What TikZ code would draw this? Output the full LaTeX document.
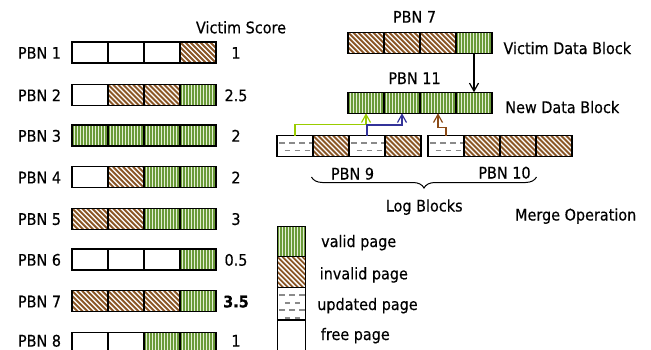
\documentclass[tikz,border=0pt]{standalone}
\usepackage{fontspec}
\setmainfont{DejaVu Sans}[FakeStretch=0.9,FakeBold=0.4]
\usetikzlibrary{arrows.meta,decorations.pathreplacing,calc}

\definecolor{validgreen}{HTML}{6A9A38}
\definecolor{validlight}{HTML}{E4EFD6}
\definecolor{stripebrown}{HTML}{8A5626}
\definecolor{dashgray}{HTML}{8A8A8A}
\definecolor{linkgreen}{HTML}{99CC00}
\definecolor{linkblue}{HTML}{333399}
\definecolor{linkbrown}{HTML}{8B4A16}

\tikzset{
  pagecell/.style={draw=black, line width=1.1pt, minimum width=36pt, minimum height=21pt,
    inner sep=0pt, outer sep=0pt},
  freepg/.style={pagecell, fill=white},
  validpg/.style={pagecell, fill=validgreen, path picture={
      \foreach \k in {1,...,16}
        \draw[validlight, line width=0.9pt]
          ([xshift=\k*3pt-1pt]path picture bounding box.north west) --
          ([xshift=\k*3pt-1pt]path picture bounding box.south west);}},
  invalidpg/.style={pagecell, fill=white, path picture={
      \foreach \s in {-50,-45,...,40}
        \draw[stripebrown, line width=1.9pt]
          ([xshift=\s pt]path picture bounding box.north west) -- ++(55pt,-55pt);}},
  updatedpg/.style={pagecell, fill=white, path picture={
      \foreach \r/\o in {7.5/2,15/7.5,22.5/2,30/7.5}
        \foreach \d in {0,10,...,30}
          \draw[dashgray, line width=1.6pt]
            ([xshift={(\o+\d)*1pt}, yshift={-\r*1pt}]path picture bounding box.north west) -- ++(5.5pt,0pt);}},
  lbl/.style={font=\fontsize{16}{19}\selectfont, inner sep=0pt, anchor=base},
  link/.style={line width=1.2pt, -{Straight Barb[length=8pt,width=9pt]}},
}

\begin{document}
\begin{tikzpicture}[x=1pt,y=-1pt]
\useasboundingbox (0,0) rectangle (651,349);
\clip (0,0) rectangle (651,349);

% ---- blocks ranked by victim score ----
\node[lbl] (vscore) at (241,33.3) {Victim Score};
\foreach \r/\y/\t/\a/\b/\c/\d/\s in {
    1/52.5/58.7/freepg/freepg/freepg/invalidpg/1,
    2/95/101.2/freepg/invalidpg/invalidpg/validpg/2.5,
    3/135.5/141.7/validpg/validpg/validpg/validpg/2,
    4/177.2/183.4/freepg/invalidpg/validpg/validpg/2,
    5/218.7/224.9/invalidpg/invalidpg/validpg/validpg/3,
    6/259.5/265.7/freepg/freepg/freepg/validpg/0.5,
    7/301.2/307.4/invalidpg/invalidpg/invalidpg/validpg/{\textbf{3.5}},
    8/342.8/346.6/freepg/freepg/validpg/validpg/1} {
  \node[\a] (b\r c1) at (90,\y) {};
  \node[\b] (b\r c2) at (126,\y) {};
  \node[\c] (b\r c3) at (162,\y) {};
  \node[\d] (b\r c4) at (198,\y) {};
  \node[lbl] (pbn\r) at (39.5,\t) {PBN \r};
  \node[lbl] (score\r) at (236,\t) {\s};
}

% ---- victim data block ----
\node[lbl] (t7) at (414.5,22.7) {PBN 7};
\node[invalidpg] (v7c1) at (366,42.8) {};
\node[invalidpg] (v7c2) at (402,42.8) {};
\node[invalidpg] (v7c3) at (438,42.8) {};
\node[validpg]   (v7c4) at (474,42.8) {};
\node[lbl] (tvictim) at (567.3,54) {Victim Data Block};

% ---- new data block ----
\node[lbl] (t11) at (414.5,84) {PBN 11};
\node[validpg] (n11c1) at (366,102.8) {};
\node[validpg] (n11c2) at (402,102.8) {};
\node[validpg] (n11c3) at (438,102.8) {};
\node[validpg] (n11c4) at (474,102.8) {};
\node[lbl] (tnew) at (562.3,113) {New Data Block};

% ---- log blocks ----
\node[updatedpg] (l9c1) at (295,146) {};
\node[invalidpg] (l9c2) at (331,146) {};
\node[updatedpg] (l9c3) at (367,146) {};
\node[invalidpg] (l9c4) at (403,146) {};
\node[updatedpg] (l10c1) at (446,146) {};
\node[invalidpg] (l10c2) at (482,146) {};
\node[invalidpg] (l10c3) at (518,146) {};
\node[invalidpg] (l10c4) at (554,146) {};
\node[lbl] (t9) at (352.5,179.5) {PBN 9};
\node[lbl] (t10) at (504.5,178.5) {PBN 10};
\coordinate (braceL) at (311.5,177);
\coordinate (braceR) at (536.5,177);
\draw[decorate, decoration={brace, amplitude=11pt, mirror}, line width=1pt] (braceL) -- (braceR);
\node[lbl] (tlog) at (424.2,211.5) {Log Blocks};
\node[lbl] (tmerge) at (575.7,220.5) {Merge Operation};

% ---- merge copies ----
\draw[link] (v7c4.south) -- (n11c4.north);
\draw[link, linkgreen] (l9c1.north) -- ++(0,-11) -| (n11c1.south);
\draw[link, linkblue] (l9c3.north) -- ++(0,-10.5) -| (n11c2.south);
\draw[link, linkbrown] (l10c1.north) -- ++(0,-8) -| (n11c3.south);

% ---- legend ----
\node[validpg, minimum width=27.7pt, minimum height=30pt] (kvalid) at (291.2,241.7) {};
\node[invalidpg, minimum width=27.7pt, minimum height=31pt] (kinvalid) at (291.2,272.2) {};
\node[updatedpg, minimum width=27.7pt, minimum height=32.3pt] (kupdated) at (291.2,303.85) {};
\node[freepg, minimum width=27.7pt, minimum height=60pt] (kfree) at (291.2,350) {};
\node[lbl] (lvalid) at (358.7,247) {valid page};
\node[lbl] (linvalid) at (363.8,279.3) {invalid page};
\node[lbl] (lupdated) at (367.5,310) {updated page};
\node[lbl] (lfree) at (355.3,340) {free page};
\end{tikzpicture}
\end{document}
